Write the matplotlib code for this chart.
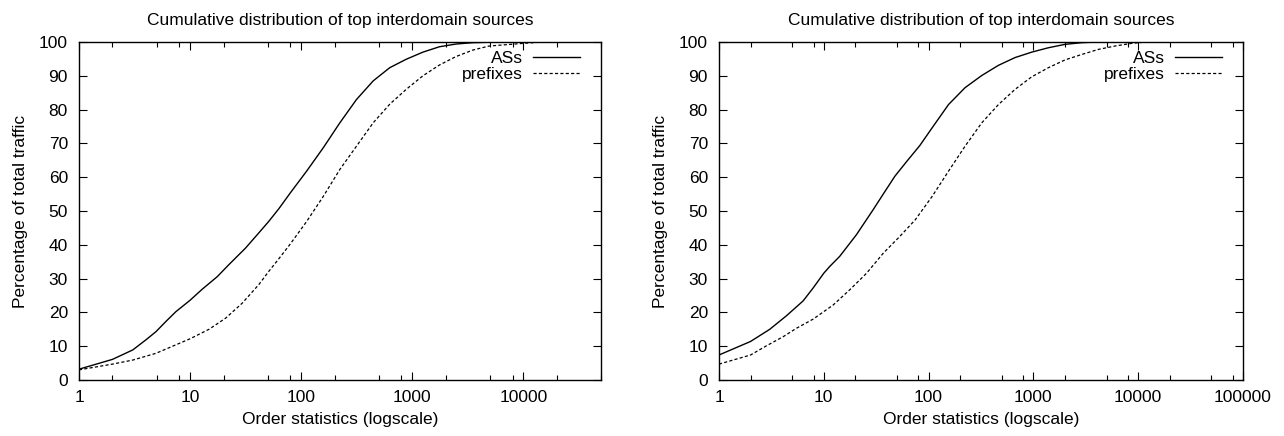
import numpy as np
import matplotlib
matplotlib.use('Agg')
import matplotlib.pyplot as plt
from matplotlib.ticker import LogLocator, FixedLocator, NullFormatter

plt.rcParams['font.family'] = ['Liberation Sans', 'DejaVu Sans']

# left panel
left_as_x = [1, 2, 3.05, 4.01, 4.93, 6.05, 7.44, 10, 12.9, 17.6, 22.3, 31.5, 41.5, 51, 62.7,
             79.6, 112, 158, 223, 315, 445, 627, 883, 1247, 1758, 2478, 3500, 6000, 15000, 50000]
left_as_y = [3.2, 6.1, 8.9, 11.9, 14.3, 17.3, 20.2, 23.6, 26.9, 30.6, 34.1, 39.0, 43.5, 46.9, 50.6,
             55.3, 61.8, 68.7, 76.1, 83.0, 88.5, 92.4, 94.9, 97.0, 98.6, 99.4, 99.8, 100, 100, 100]
left_pf_x = [1, 2, 3.05, 4.93, 7.44, 10, 14.8, 20.9, 29.4, 41.5, 51, 62.7, 79.6, 112, 158, 223,
             315, 445, 627, 883, 1247, 1758, 2478, 3500, 4900, 10000, 15000]
left_pf_y = [3.0, 4.7, 5.9, 7.9, 10.4, 12.2, 15.0, 18.3, 22.7, 28.2, 32.1, 35.8, 40.2, 46.9, 54.3, 62.3,
             69.2, 76.1, 81.6, 86.0, 90.0, 93.2, 95.7, 97.6, 98.8, 99.6, 100]

# right panel
right_as_x = [1, 2, 3.05, 4.4, 6.35, 7.9, 10, 11.4, 14.2, 20.5, 29.6, 36.9, 47.7, 61.6, 82.6,
              108, 155, 223, 322, 464, 669, 964, 1390, 2004, 2887, 4200, 10000]
right_as_y = [7.4, 11.4, 15.0, 19.0, 23.4, 27.2, 31.6, 33.6, 36.6, 43.0, 50.4, 55.0, 60.3, 64.6, 69.4,
              74.6, 81.5, 86.5, 90.1, 93.1, 95.4, 97.0, 98.3, 99.3, 99.8, 100, 100]
right_pf_x = [1, 2, 2.83, 4.09, 5.48, 7.9, 12.3, 17.7, 25.6, 36.9, 53.2, 74.6, 108, 155, 223, 322,
              464, 669, 964, 1390, 2004, 2887, 4160, 6000, 8650, 12000]
right_pf_y = [4.7, 7.4, 10.1, 12.8, 15.3, 18.0, 22.2, 26.7, 31.6, 37.5, 42.5, 47.4, 54.3, 61.8, 69.2, 76.1,
              81.5, 86.0, 89.7, 92.4, 94.7, 96.3, 97.8, 98.8, 99.6, 100]

title = 'Cumulative distribution of top interdomain sources'
xlabel = 'Order statistics (logscale)'
ylabel = 'Percentage of total traffic'
yticks = list(range(0, 101, 10))

fig = plt.figure(figsize=(12.84, 4.36), dpi=100)
ax1 = fig.add_axes([79/1284, 56/436, 522/1284, 338/436])
ax2 = fig.add_axes([719/1284, 56/436, 524/1284, 338/436])

panels = [
    (ax1, left_as_x, left_as_y, left_pf_x, left_pf_y, 50000, [1, 10, 100, 1000, 10000]),
    (ax2, right_as_x, right_as_y, right_pf_x, right_pf_y, 100000, [1, 10, 100, 1000, 10000, 100000]),
]

for ax, ax_x, ax_y, pf_x, pf_y, xmax, xt in panels:
    ax.plot(ax_x, ax_y, color='black', lw=1.0, label='ASs')
    ax.plot(pf_x, pf_y, color='black', lw=0.9, ls=(0, (2.5, 1.8)), label='prefixes')
    ax.set_xscale('log')
    ax.set_xlim(1, xmax)
    ax.set_ylim(0, 100)
    ax.xaxis.set_major_locator(FixedLocator(xt))
    ax.set_xticklabels([str(v) for v in xt])
    ax.xaxis.set_minor_locator(LogLocator(base=10, subs=[2, 5, 8]))
    ax.xaxis.set_minor_formatter(NullFormatter())
    ax.set_yticks(yticks)
    ax.tick_params(which='both', direction='in', top=True, right=True, labelsize=12.5)
    ax.tick_params(axis='x', pad=7)
    ax.tick_params(axis='y', pad=8)
    ax.tick_params(which='major', length=6, width=0.8)
    ax.tick_params(which='minor', length=3.5, width=0.8)
    for s in ax.spines.values():
        s.set_linewidth(1.0)
    ax.set_title(title, fontsize=12.5, pad=12)
    ax.set_xlabel(xlabel, fontsize=12.5, labelpad=5)
    ax.set_ylabel(ylabel, fontsize=12.5, labelpad=8)
    leg = ax.legend(loc='upper right', frameon=False, markerfirst=False, fontsize=12.5,
                    handlelength=2.7, handletextpad=0.6, borderaxespad=0, borderpad=0,
                    labelspacing=0.1, bbox_to_anchor=(0.96, 0.975))
    for t in leg.get_texts():
        t.set_ha('right')

fig.savefig('out.png', dpi=100)
